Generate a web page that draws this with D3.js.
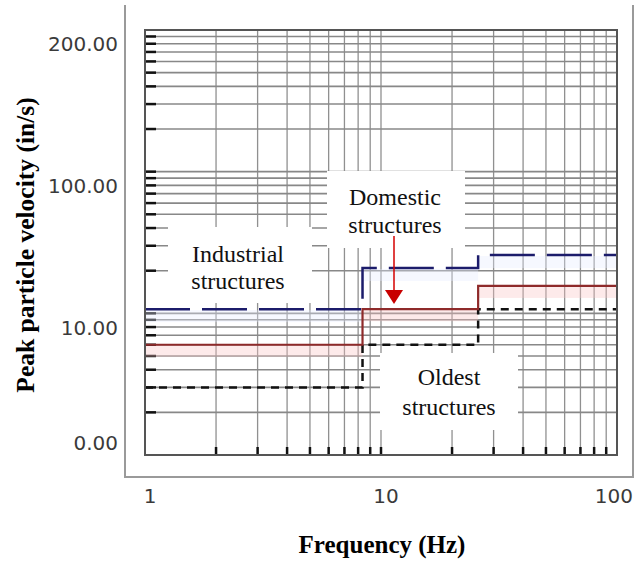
<!DOCTYPE html>
<html>
<head>
<meta charset="utf-8">
<script src="https://cdn.jsdelivr.net/npm/d3@7"></script>
<style>
  html, body { margin: 0; padding: 0; background: #fff; }
  svg { display: block; }
</style>
</head>
<body>
<svg id="chart" width="634" height="561"></svg>
<script>
// Frequency break points (Hz) where the vibration limits step up
const freqEdges = [1, 8.35, 25.8, 100];

// Peak particle velocity limit for each frequency band
const industrial = [10.7, 20.9, 25.8];
const domestic   = [6.0, 10.7, 15.6];
const oldest     = [3.0, 6.0, 10.7];

// Axis ticks and their printed labels
const xTickValues = [1, 10, 100];
const xTickLabels = ["1", "10", "100"];
const yTickValues = [1, 10, 100, 1000];
const yTickLabels = ["0.00", "10.00", "100.00", "200.00"];

// Annotation texts
const boxTexts = [
  { lines: ["Industrial", "structures"] },
  { lines: ["Domestic", "structures"] },
  { lines: ["Oldest", "structures"] }
];

const svg = d3.select("#chart");
const plot = { left: 145, right: 617, top: 30, bottom: 455 };

const x = d3.scaleLog().domain([1, 100]).range([plot.left, plot.right]);
const y = d3.scaleLog().domain([1, 1000]).range([plot.bottom, plot.top]);

// Outer frame (left, bottom, right)
svg.append("path")
  .attr("d", `M125,5 V477 H633 V5`)
  .attr("fill", "none").attr("stroke", "#9a9a9a").attr("stroke-width", 2);

// Log grid values
function logGrid(lo, hi) {
  const out = [];
  for (let p = lo; p < hi; p *= 10) {
    for (let m = 1; m <= 9; m++) {
      const v = m * p;
      if (v > lo && v < hi) out.push(v);
    }
  }
  return out;
}
const xGrid = logGrid(1, 100);
const yGrid = logGrid(1, 1000);

const grid = svg.append("g");
grid.selectAll("line.v").data(xGrid).join("line")
  .attr("x1", d => x(d)).attr("x2", d => x(d))
  .attr("y1", plot.top).attr("y2", plot.bottom)
  .attr("stroke", "#909090").attr("stroke-width", 1.3);
grid.selectAll("line.h").data(yGrid).join("line")
  .attr("x1", plot.left).attr("x2", plot.right)
  .attr("y1", d => y(d)).attr("y2", d => y(d))
  .attr("stroke", "#888").attr("stroke-width", 1.6);

// Black tick marks on left and bottom edges
grid.selectAll("line.lt").data(yGrid).join("line")
  .attr("x1", plot.left).attr("x2", plot.left + 11)
  .attr("y1", d => y(d)).attr("y2", d => y(d))
  .attr("stroke", "#111").attr("stroke-width", 2.5);
grid.selectAll("line.bt").data(xGrid).join("line")
  .attr("x1", d => x(d)).attr("x2", d => x(d))
  .attr("y1", plot.bottom).attr("y2", plot.bottom - 8)
  .attr("stroke", "#111").attr("stroke-width", 2.5);

// Step series
function stepPoints(vals) {
  const pts = vals.map((v, i) => ({ f: freqEdges[i], v }));
  pts.push({ f: freqEdges[freqEdges.length - 1], v: vals[vals.length - 1] });
  return pts;
}
const line = d3.line().x(d => x(d.f)).y(d => y(d.v)).curve(d3.curveStepAfter);

// Soft halos under the limit lines
const halo = svg.append("g");
function bands(vals, h, fill, op) {
  halo.selectAll(null).data(vals).join("rect")
    .attr("x", (d, i) => x(freqEdges[i]))
    .attr("width", (d, i) => x(freqEdges[i + 1]) - x(freqEdges[i]))
    .attr("y", d => y(d) + 1)
    .attr("height", h)
    .attr("fill", fill).attr("opacity", op);
}
bands(industrial, 12, "#e6ebff", 0.35);
bands(domestic, 11, "#f8c4c4", 0.35);

svg.append("path").attr("d", line(stepPoints(oldest)))
  .attr("fill", "none").attr("stroke", "#111").attr("stroke-width", 2.5)
  .attr("stroke-dasharray", "8,6");
svg.append("path").attr("d", line(stepPoints(domestic)))
  .attr("fill", "none").attr("stroke", "#8e2a2a").attr("stroke-width", 2.2);
svg.append("path").attr("d", line(stepPoints(industrial)))
  .attr("fill", "none").attr("stroke", "#1c1c6b").attr("stroke-width", 2.5)
  .attr("stroke-dasharray", "45,12");

// Plot border
svg.append("rect")
  .attr("x", plot.left).attr("y", plot.top)
  .attr("width", plot.right - plot.left).attr("height", plot.bottom - plot.top)
  .attr("fill", "none").attr("stroke", "#555").attr("stroke-width", 2);

// Axis tick labels
const tickFont = "'DejaVu Sans', sans-serif";
svg.append("g").selectAll("text").data(xTickValues).join("text")
  .attr("x", (d, i) => i === xTickValues.length - 1 ? 633 : x(d) + 5)
  .attr("y", 503)
  .attr("text-anchor", (d, i) => i === xTickValues.length - 1 ? "end" : "middle")
  .attr("font-family", tickFont).attr("font-size", 20)
  .attr("fill", "#3a3a3a")
  .text((d, i) => xTickLabels[i]);
svg.append("g").selectAll("text").data(yTickValues).join("text")
  .attr("x", 118).attr("y", (d, i) => y(d) + (i === 0 ? -12 : 14))
  .attr("dy", "0.36em")
  .attr("text-anchor", "end")
  .attr("font-family", tickFont).attr("font-size", 20)
  .attr("fill", "#3a3a3a")
  .text((d, i) => yTickLabels[i]);

// Axis titles
const serif = "'Liberation Serif', 'Times New Roman', serif";
svg.append("text")
  .attr("x", 382).attr("y", 553)
  .attr("text-anchor", "middle")
  .attr("font-family", serif).attr("font-weight", "bold").attr("font-size", 25)
  .text("Frequency (Hz)");
svg.append("text")
  .attr("transform", "translate(34,245) rotate(-90)")
  .attr("text-anchor", "middle")
  .attr("font-family", serif).attr("font-weight", "bold").attr("font-size", 25.5)
  .text("Peak particle velocity (in/s)");

// Annotation boxes
const boxGeom = [
  { x: 168, y: 227, w: 144, h: 76, cx: 238, b1: 262, b2: 289 },
  { x: 327, y: 171, w: 138, h: 77, cx: 395, b1: 205, b2: 233 },
  { x: 380, y: 353, w: 138, h: 77, cx: 449, b1: 385, b2: 415 }
];
boxTexts.forEach((t, i) => {
  const g = boxGeom[i];
  const grp = svg.append("g");
  grp.append("rect").attr("x", g.x).attr("y", g.y).attr("width", g.w).attr("height", g.h)
    .attr("fill", "#fff");
  grp.append("text").attr("x", g.cx).attr("y", g.b1)
    .attr("text-anchor", "middle").attr("font-family", serif).attr("font-size", 24)
    .attr("fill", "#111").text(t.lines[0]);
  grp.append("text").attr("x", g.cx).attr("y", g.b2)
    .attr("text-anchor", "middle").attr("font-family", serif).attr("font-size", 24)
    .attr("fill", "#111").text(t.lines[1]);
});

// Arrow pointing to the domestic limit
svg.append("line").attr("x1", 394).attr("x2", 394).attr("y1", 236).attr("y2", 292)
  .attr("stroke", "#d40000").attr("stroke-width", 1.5);
svg.append("path").attr("d", "M385,290 L403,290 L394,304 Z").attr("fill", "#c80000");
</script>
</body>
</html>
